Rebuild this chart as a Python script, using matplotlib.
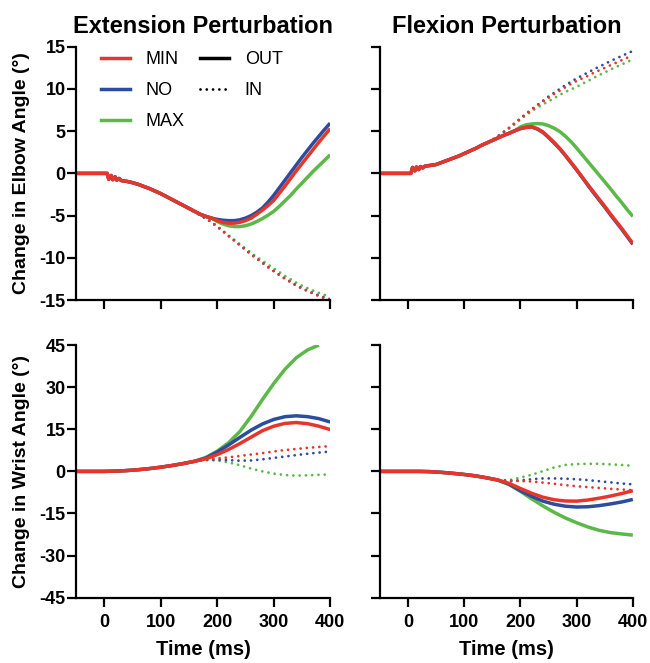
import numpy as np
import matplotlib
matplotlib.use("Agg")
import matplotlib.pyplot as plt
from matplotlib.lines import Line2D

plt.rcParams['font.family'] = ['Liberation Sans', 'DejaVu Sans']
plt.rcParams['axes.unicode_minus'] = False

# time bases (ms)
t_elbow = [-50, 0, 5, 8, 12, 15, 19, 22, 26, 30, 40] + list(range(50, 401, 10))
t_wrist = [-50, -25] + list(range(0, 401, 20))

# ---- elbow, extension perturbation ----
ext_early = [0, 0, 0, -0.7, -0.25, -0.75, -0.4, -0.8, -0.6, -0.85, -0.95,
             -1.1, -1.3, -1.55, -1.8, -2.1, -2.4, -2.75, -3.1, -3.45, -3.8,
             -4.15, -4.5, -4.85, -5.1, -5.3]  # up to 190 ms
elb_ext_out_min = ext_early + [-5.6, -5.8, -5.9, -5.9, -5.8, -5.6, -5.3, -4.85, -4.35, -3.8,
                               -3.2, -2.35, -1.5, -0.6, 0.3, 1.15, 2.0, 2.85, 3.7, 4.5, 5.3]
elb_ext_out_no = ext_early + [-5.45, -5.55, -5.6, -5.6, -5.5, -5.3, -5.0, -4.6, -4.1, -3.4,
                              -2.6, -1.7, -0.8, 0.1, 1.0, 1.9, 2.75, 3.6, 4.4, 5.2, 5.95]
elb_ext_out_max = ext_early + [-5.7, -6.0, -6.2, -6.3, -6.3, -6.2, -6.0, -5.7, -5.35, -4.95,
                               -4.5, -3.9, -3.25, -2.6, -1.85, -1.15, -0.45, 0.25, 0.9, 1.55, 2.2]
ext_in_early = ext_early[:21]  # up to 140 ms
elb_ext_in_min = ext_in_early + [-4.2, -4.55, -4.95, -5.35, -5.8, -6.3, -6.85, -7.4, -7.95, -8.5,
                                 -9.05, -9.6, -10.1, -10.6, -11.1, -11.6, -12.05, -12.5, -12.9,
                                 -13.3, -13.65, -13.95, -14.25, -14.55, -14.8, -15.0]
elb_ext_in_no = ext_in_early + [-4.2, -4.55, -4.95, -5.35, -5.8, -6.3, -6.85, -7.4, -7.95, -8.5,
                                -9.05, -9.6, -10.1, -10.6, -11.1, -11.55, -12.0, -12.45, -12.85,
                                -13.25, -13.6, -13.9, -14.2, -14.45, -14.7, -14.9]
elb_ext_in_max = ext_in_early + [-4.2, -4.55, -4.95, -5.35, -5.8, -6.3, -6.8, -7.35, -7.85, -8.4,
                                 -8.9, -9.4, -9.9, -10.35, -10.8, -11.25, -11.7, -12.15, -12.55,
                                 -12.95, -13.3, -13.6, -13.9, -14.15, -14.4, -14.6]

# ---- elbow, flexion perturbation ----
flx_early = [0, 0, 0, 0.7, 0.3, 0.75, 0.45, 0.8, 0.65, 0.85, 0.95,
             1.05, 1.3, 1.55, 1.8, 2.05, 2.35, 2.65, 2.95, 3.3, 3.6,
             3.9, 4.2, 4.5, 4.75, 5.05]  # up to 190 ms
elb_flx_out_min = flx_early + [5.3, 5.45, 5.5, 5.3, 4.9, 4.3, 3.65, 2.95, 2.15, 1.3,
                               0.45, -0.45, -1.35, -2.2, -3.05, -3.9, -4.8, -5.65, -6.5, -7.4, -8.3]
elb_flx_out_no = flx_early + [5.3, 5.45, 5.5, 5.25, 4.85, 4.25, 3.6, 2.9, 2.1, 1.25,
                              0.4, -0.5, -1.4, -2.3, -3.15, -4.0, -4.9, -5.75, -6.6, -7.5, -8.4]
elb_flx_out_max = flx_early + [5.5, 5.75, 5.85, 5.9, 5.85, 5.65, 5.35, 4.95, 4.4, 3.75,
                               3.0, 2.2, 1.4, 0.6, -0.2, -1.0, -1.8, -2.65, -3.45, -4.3, -5.1]
flx_in_early = flx_early[:21]
elb_flx_in_no = flx_in_early + [3.95, 4.4, 4.9, 5.4, 5.95, 6.5, 7.05, 7.6, 8.1, 8.6,
                                9.1, 9.55, 10.0, 10.45, 10.85, 11.25, 11.6, 11.95, 12.3,
                                12.65, 12.95, 13.3, 13.6, 13.9, 14.2, 14.5]
elb_flx_in_min = flx_in_early + [3.95, 4.4, 4.9, 5.4, 5.95, 6.5, 7.05, 7.55, 8.05, 8.5,
                                 8.95, 9.4, 9.8, 10.2, 10.6, 10.95, 11.25, 11.55, 11.9,
                                 12.2, 12.5, 12.8, 13.1, 13.4, 13.7, 13.95]
elb_flx_in_max = flx_in_early + [3.95, 4.4, 4.85, 5.35, 5.85, 6.4, 6.9, 7.35, 7.8, 8.15,
                                 8.55, 8.9, 9.3, 9.65, 9.95, 10.25, 10.6, 10.95, 11.3,
                                 11.65, 11.95, 12.3, 12.6, 12.9, 13.2, 13.5]

# ---- wrist, extension perturbation ----
w_ext_early = [0, 0, 0, 0.1, 0.3, 0.6, 1.0, 1.5, 2.1, 2.8, 3.6]  # up to 160 ms
wr_ext_out_min = w_ext_early + [4.5, 6.0, 7.8, 9.9, 12.2, 14.5, 16.1, 17.1, 17.4, 17.0, 16.1, 14.9]
wr_ext_out_no = w_ext_early + [4.75, 6.9, 9.4, 12.1, 14.7, 16.9, 18.5, 19.5, 19.8, 19.5, 18.8, 17.6]
wr_ext_out_max = w_ext_early + [5.0, 7.2, 10.2, 14.2, 19.6, 25.6, 31.3, 36.4, 40.5, 43.3, 45.0, np.nan]
wr_ext_in_min = w_ext_early + [4.2, 4.6, 5.0, 5.5, 6.0, 6.5, 7.1, 7.6, 8.0, 8.4, 8.7, 9.0]
wr_ext_in_no = w_ext_early + [4.1, 4.2, 4.0, 3.8, 3.9, 4.3, 4.8, 5.3, 5.8, 6.3, 6.7, 7.1]
wr_ext_in_max = w_ext_early + [4.0, 3.9, 3.2, 2.2, 1.0, 0.0, -0.8, -1.3, -1.5, -1.4, -1.2, -1.1]

# ---- wrist, flexion perturbation ----
w_flx_early = [0, 0, 0, 0, -0.1, -0.35, -0.7, -1.1, -1.6, -2.3, -3.1]
wr_flx_out_min = w_flx_early + [-4.3, -6.1, -7.8, -9.2, -10.1, -10.55, -10.6, -10.2, -9.55, -8.8, -7.9, -6.9]
wr_flx_out_no = w_flx_early + [-4.6, -6.9, -8.9, -10.6, -11.7, -12.4, -12.7, -12.6, -12.2, -11.6, -10.9, -10.0]
wr_flx_out_max = w_flx_early + [-4.7, -7.1, -9.8, -12.3, -14.6, -16.6, -18.3, -19.8, -21.0, -21.8, -22.3, -22.7]
wr_flx_in_min = w_flx_early + [-3.5, -3.4, -3.6, -4.0, -4.4, -4.9, -5.3, -5.6, -5.9, -6.2, -6.45, -6.7]
wr_flx_in_no = w_flx_early + [-3.4, -3.2, -2.8, -2.5, -2.5, -2.6, -2.8, -3.1, -3.5, -3.9, -4.3, -4.6]
wr_flx_in_max = w_flx_early + [-3.1, -2.2, -1.2, 0.1, 1.4, 2.3, 2.6, 2.7, 2.7, 2.5, 2.3, 2.0]

RED = '#E8352B'
BLUE = '#2B4C9F'
GREEN = '#5CB848'
SOLID_LW = 2.5
DOT_LW = 2.0
DOTS = (0, (0.01, 2.25))

fig = plt.figure(figsize=(6.5, 6.63), dpi=100)
ax_tl = fig.add_axes([0.117, 0.5475, 0.391, 0.382])
ax_tr = fig.add_axes([0.5846, 0.5475, 0.389, 0.382])
ax_bl = fig.add_axes([0.117, 0.0985, 0.391, 0.381])
ax_br = fig.add_axes([0.5846, 0.0985, 0.389, 0.381])


def draw(ax, t, out_min, out_no, out_max, in_min, in_no, in_max):
    for y, c in [(in_max, GREEN), (in_no, BLUE), (in_min, RED)]:
        ax.plot(t, y, color=c, lw=DOT_LW, linestyle=DOTS, dash_capstyle='round')
    for y, c in [(out_max, GREEN), (out_no, BLUE), (out_min, RED)]:
        ax.plot(t, y, color=c, lw=SOLID_LW, solid_capstyle='butt')


draw(ax_tl, t_elbow, elb_ext_out_min, elb_ext_out_no, elb_ext_out_max,
     elb_ext_in_min, elb_ext_in_no, elb_ext_in_max)
draw(ax_tr, t_elbow, elb_flx_out_min, elb_flx_out_no, elb_flx_out_max,
     elb_flx_in_min, elb_flx_in_no, elb_flx_in_max)
draw(ax_bl, t_wrist, wr_ext_out_min, wr_ext_out_no, wr_ext_out_max,
     wr_ext_in_min, wr_ext_in_no, wr_ext_in_max)
draw(ax_br, t_wrist, wr_flx_out_min, wr_flx_out_no, wr_flx_out_max,
     wr_flx_in_min, wr_flx_in_no, wr_flx_in_max)

for ax in [ax_tl, ax_tr, ax_bl, ax_br]:
    ax.set_xlim(-50, 400)
    ax.set_xticks([0, 100, 200, 300, 400])
    for s in ['top', 'right']:
        ax.spines[s].set_visible(False)
    for s in ['left', 'bottom']:
        ax.spines[s].set_linewidth(1.6)
    ax.tick_params(direction='out', length=6.5, width=1.6, labelsize=13)
    ax.tick_params(axis='x', pad=5)
    ax.tick_params(axis='y', pad=1)
    for lab in ax.get_xticklabels() + ax.get_yticklabels():
        lab.set_fontweight('bold')

for ax in [ax_tl, ax_tr]:
    ax.set_ylim(-15, 15)
    ax.set_yticks([-15, -10, -5, 0, 5, 10, 15])
    ax.tick_params(labelbottom=False)
for ax in [ax_bl, ax_br]:
    ax.set_ylim(-45, 45)
    ax.set_yticks([-45, -30, -15, 0, 15, 30, 45])
    ax.set_xlabel('Time (ms)', fontsize=14.5, fontweight='bold', labelpad=7)
for ax in [ax_tr, ax_br]:
    ax.tick_params(labelleft=False)

ax_tl.set_ylabel('Change in Elbow Angle (°)', fontsize=14, fontweight='bold', labelpad=7)
ax_bl.set_ylabel('Change in Wrist Angle (°)', fontsize=14, fontweight='bold', labelpad=7)
ax_tl.set_title('Extension Perturbation', fontsize=17, fontweight='bold', pad=10)
ax_tr.set_title('Flexion Perturbation', fontsize=17, fontweight='bold', pad=10)

handles = [Line2D([], [], color=RED, lw=SOLID_LW),
           Line2D([], [], color=BLUE, lw=SOLID_LW),
           Line2D([], [], color=GREEN, lw=SOLID_LW),
           Line2D([], [], color='black', lw=SOLID_LW),
           Line2D([], [], color='black', lw=DOT_LW, linestyle=DOTS, dash_capstyle='round')]
labels = ['MIN', 'NO', 'MAX', 'OUT', 'IN']
ax_tl.legend(handles, labels, ncol=2, frameon=False, fontsize=13,
             loc='upper left', bbox_to_anchor=(101 / 650, 1 - 51 / 663),
             bbox_transform=fig.transFigure, borderpad=0, borderaxespad=0,
             handlelength=1.6, handletextpad=0.85, labelspacing=0.78, columnspacing=0.9)

fig.savefig('out.png', dpi=100)
